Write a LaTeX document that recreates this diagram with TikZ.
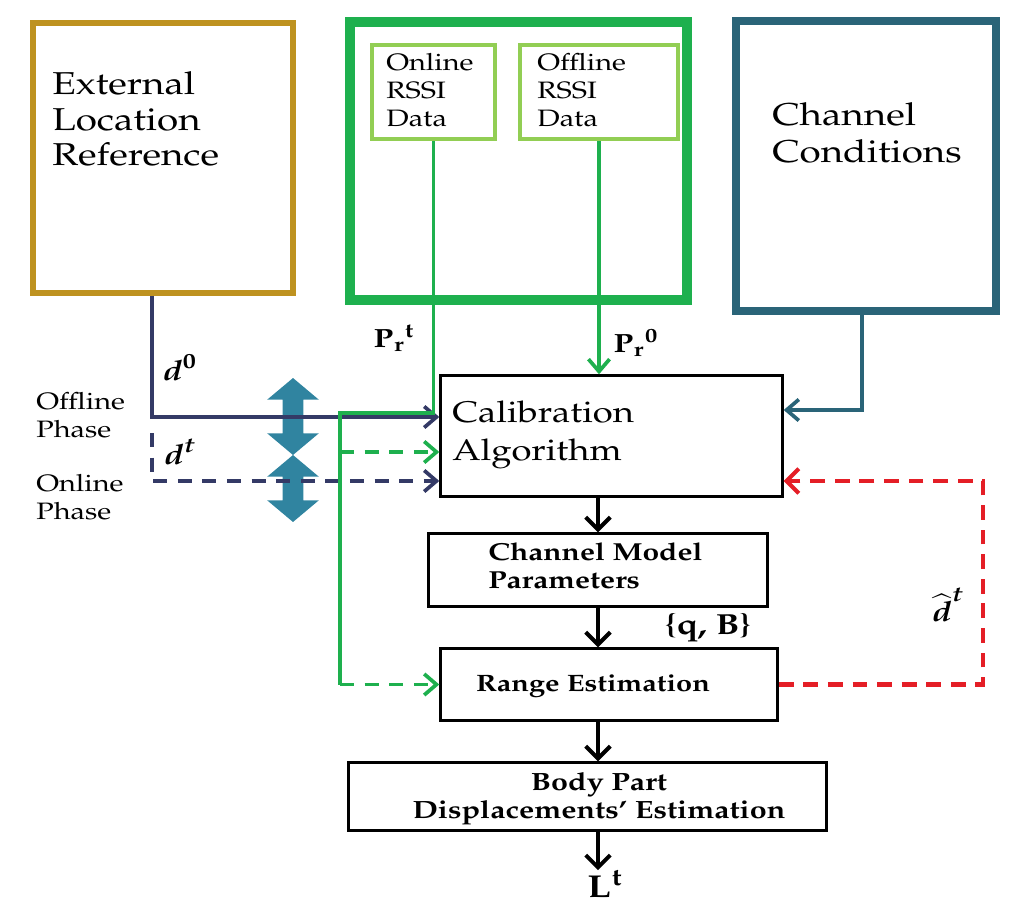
\documentclass[tikz,border=0pt]{standalone}
\usepackage[T1]{fontenc}
\usepackage{mathpazo}
\usepackage{amsmath}
\usepackage{graphicx}
\usetikzlibrary{arrows.meta,shapes.arrows}

\definecolor{gold}{RGB}{190,146,32}
\definecolor{rssigreen}{RGB}{30,176,78}
\definecolor{lightgreen}{RGB}{146,206,84}
\definecolor{chanteal}{RGB}{42,100,120}
\definecolor{phaseteal}{RGB}{48,132,160}
\definecolor{navy}{RGB}{52,58,102}
\definecolor{fbred}{RGB}{228,30,38}

\newcommand\wl[1]{\scalebox{1.22}[1]{\begin{tabular}{@{}l@{}}#1\end{tabular}}}
\newcommand\wc[1]{\scalebox{1.22}[1]{\begin{tabular}{@{}c@{}}#1\end{tabular}}}

\tikzset{
	blockbox/.style={draw=black,line width=1.4pt,inner sep=0pt},
	phasearrow/.style={double arrow,shape border rotate=90,fill=phaseteal,inner sep=0.2cm,
		double arrow head extend=0.31cm,double arrow tip angle=100},
	flow/.style={line width=2.3pt,-{Straight Barb[length=7pt,width=14pt]}},
	link/.style={line width=2.1pt,-{Straight Barb[length=7pt,width=12pt]}},
	dashlink/.style={link,dash pattern=on 8pt off 6pt},
}

\begin{document}
\begin{tikzpicture}[x=0.02cm,y=-0.02cm]
	\useasboundingbox (0,0) rectangle (1024,919);

	% sources
	\node[draw=gold,line width=3.4pt,minimum width=5.2cm,minimum height=5.4cm] (ext) at (163,158) {};
	\node[anchor=west,inner sep=0pt,font=\fontsize{18}{20}\selectfont] (extl) at (52,123) {\wl{External\\Location\\Reference}};

	\node[draw=rssigreen,line width=5.7pt,minimum width=6.74cm,minimum height=5.56cm] (rssi) at (518.5,161) {};
	\node[draw=lightgreen,line width=2.3pt,minimum width=2.46cm,minimum height=1.88cm] (onl) at (433.5,92) {};
	\node[draw=lightgreen,line width=2.3pt,minimum width=3.16cm,minimum height=1.88cm] (offl) at (599,92) {};
	\node[anchor=west,inner sep=0pt,font=\fontsize{13.5}{16}\selectfont] at (386,93) {\wl{Online\\RSSI\\Data}};
	\node[anchor=west,inner sep=0pt,font=\fontsize{13.5}{16}\selectfont] at (537,93) {\wl{Offline\\RSSI\\Data}};

	\node[draw=chanteal,line width=4.5pt,minimum width=5.2cm,minimum height=5.8cm] (chan) at (866,166) {};
	\node[anchor=west,inner sep=0pt,font=\fontsize{18}{21}\selectfont] (chanl) at (772,137) {\wl{Channel\\Conditions}};

	% processing chain
	\node[blockbox,minimum width=6.84cm,minimum height=2.42cm] (calib) at (611.5,436) {};
	\node[anchor=west,inner sep=0pt,font=\fontsize{17}{21.5}\selectfont] at (452,434) {\wl{Calibration\\Algorithm}};
	\node[blockbox,minimum width=6.78cm,minimum height=1.46cm] (cmp) at (598,570) {};
	\node[anchor=west,inner sep=0pt,font=\fontsize{14}{16}\selectfont\bfseries] at (488,569) {\wl{Channel Model\\Parameters}};
	\node[blockbox,minimum width=6.74cm,minimum height=1.44cm] (range) at (609,684.5) {};
	\node[inner sep=0pt,font=\fontsize{13.5}{16}\selectfont\bfseries] at (593,686) {\wl{Range Estimation}};
	\node[blockbox,minimum width=9.56cm,minimum height=1.36cm] (body) at (587.5,796.5) {};
	\node[inner sep=0pt,font=\fontsize{14.2}{16}\selectfont\bfseries] at (599,799) {\wc{Body Part\\Displacements' Estimation}};
	\node[inner sep=0pt,font=\fontsize{18}{20}\selectfont] (lt) at (605,884) {\scalebox{1.22}[1]{$\mathbf{L}^{\mathbf{t}}$}};

	% phases
	\node[anchor=west,inner sep=0pt,font=\fontsize{13.5}{15.5}\selectfont] (offph) at (36,418) {\wl{Offline\\Phase}};
	\node[anchor=west,inner sep=0pt,font=\fontsize{13.5}{15.5}\selectfont] (onph) at (36,500) {\wl{Online\\Phase}};
	\node[phasearrow,minimum height=1.54cm] (pa) at (293,416.5) {};
	\node[phasearrow,minimum height=1.34cm] (pb) at (293,488.5) {};

	% labels
	\node[font=\fontsize{15}{18}\selectfont] at (394,338) {\scalebox{1.22}[1]{$\mathbf{P_r}^{\mathbf{t}}$}};
	\node[font=\fontsize{15}{18}\selectfont] at (636,343) {\scalebox{1.22}[1]{$\mathbf{P_r}^{\mathbf{0}}$}};
	\node[font=\fontsize{16}{18}\selectfont] at (180,368) {\scalebox{1.22}[1]{$\boldsymbol{d}^{\mathbf{0}}$}};
	\node[font=\fontsize{16}{18}\selectfont] at (180,452) {\scalebox{1.22}[1]{$\boldsymbol{d}^{\boldsymbol{t}}$}};
	\node[inner sep=1pt,font=\fontsize{16}{18}\selectfont] at (948,605) {\scalebox{1.22}[1]{$\widehat{\boldsymbol{d}}^{\boldsymbol{t}}$}};
	\node[font=\fontsize{16.5}{18}\selectfont\bfseries] at (708,628) {\scalebox{1.22}[1]{\{q, B\}}};

	% helper points
	\coordinate (ax) at (598,0);
	\coordinate (dx) at (152,0);
	\coordinate (gx) at (340,0);
	\coordinate (cx) at (862,0);
	\coordinate (rx) at (983,0);

	% navy: reference distances
	\draw[navy,link] (ext.south -| dx) -- (152,417) -- (calib.west |- 0,417);
	\draw[navy,dashlink] (152,433) -- (152,481) -- (calib.west |- 0,481);

	% green: RSSI
	\draw[rssigreen,line width=2.1pt] (onl.south) -- (onl.south |- 0,413) -- (gx |- 0,413) -- (gx |- range.west);
	\draw[rssigreen,dashlink] (gx |- 0,452) -- (calib.west |- 0,452);
	\draw[rssigreen,dashlink] (gx |- range.west) -- (range.west);
	\draw[rssigreen,link] (offl.south) -- (calib.north -| offl.south);

	% teal: channel
	\draw[chanteal,link] (chan.south -| cx) -- (cx |- 0,410) -- (calib.east |- 0,410);

	% red: feedback
	\draw[fbred,flow,dash pattern=on 8.5pt off 5.5pt] (range.east) -- (rx |- range.east) -- (rx |- 0,481) -- (calib.east |- 0,481);

	% black: chain
	\draw[flow] (ax |- calib.south) -- (ax |- cmp.north);
	\draw[flow] (ax |- cmp.south) -- (ax |- range.north);
	\draw[flow] (ax |- range.south) -- (ax |- body.north);
	\draw[flow] (ax |- body.south) -- (lt.north -| ax);
\end{tikzpicture}
\end{document}
